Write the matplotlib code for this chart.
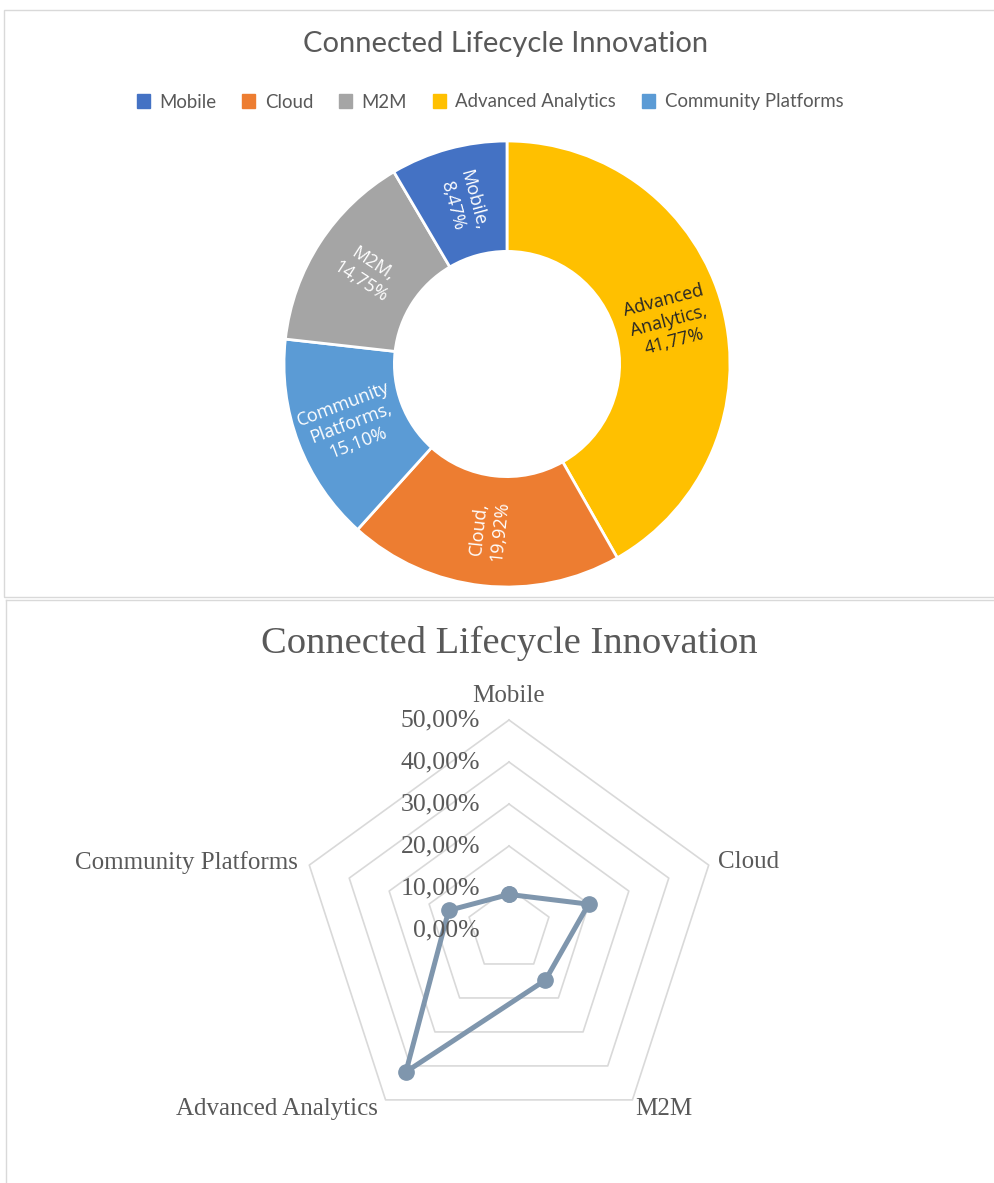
import numpy as np
import matplotlib.pyplot as plt
from matplotlib.patches import Patch, Rectangle
from matplotlib.lines import Line2D

# data
categories = ['Mobile', 'Cloud', 'M2M', 'Advanced Analytics', 'Community Platforms']
shares = [0.0847, 0.1992, 0.1475, 0.4177, 0.1510]
colors = ['#4472C4', '#ED7D31', '#A5A5A5', '#FFC000', '#5B9BD5']
donut_order = ['Advanced Analytics', 'Cloud', 'Community Platforms', 'M2M', 'Mobile']
radar_ticks = [0.0, 0.1, 0.2, 0.3, 0.4, 0.5]
title = 'Connected Lifecycle Innovation'

W, H = 995, 1183
fig = plt.figure(figsize=(W / 100, H / 100), dpi=100)
grey = '#595959'


def px_axes(x0, y0, x1, y1, **kw):
    return fig.add_axes([x0 / W, 1 - y1 / H, (x1 - x0) / W, (y1 - y0) / H], **kw)


def pct(v):
    return ('%.2f%%' % (v * 100)).replace('.', ',')


# panel borders
fig.add_artist(Rectangle((4 / W, 1 - 597 / H), 1, (597 - 10) / H, transform=fig.transFigure,
                         fill=False, ec='#D9D9D9', lw=1))
fig.add_artist(Line2D([6 / W, 6 / W], [0, 1 - 600 / H], color='#D9D9D9', lw=1))
fig.add_artist(Line2D([6 / W, 1], [1 - 600 / H, 1 - 600 / H], color='#D9D9D9', lw=1))

# ---- donut ----
fig.text(506 / W, 1 - 44 / H, title, ha='center', va='center', fontsize=21,
         family='Lato', color=grey)
handles = [Patch(color=c) for c in colors]
fig.legend(handles, categories, loc='center', bbox_to_anchor=(490 / W, 1 - 102 / H), ncol=5,
           frameon=False, handlelength=0.7, handleheight=0.7, handletextpad=0.5,
           columnspacing=1.4, prop={'family': 'Lato', 'size': 13.4}, labelcolor=grey)

ax1 = px_axes(284, 141, 730, 587)
vals = [shares[categories.index(c)] for c in donut_order]
cols = [colors[categories.index(c)] for c in donut_order]
wedges, _ = ax1.pie(vals, colors=cols, startangle=90, counterclock=False, radius=1,
                    wedgeprops=dict(width=0.495, edgecolor='white', linewidth=2))
ax1.set_xlim(-1, 1)
ax1.set_ylim(-1, 1)
for w, c, v in zip(wedges, donut_order, vals):
    ang = (w.theta1 + w.theta2) / 2
    rot = ((ang + 180) % 360) - 180
    if rot > 90:
        rot -= 180
    elif rot < -90:
        rot += 180
    x = 0.75 * np.cos(np.radians(ang))
    y = 0.75 * np.sin(np.radians(ang))
    txtcol = '#262626' if c == 'Advanced Analytics' else 'white'
    ax1.text(x, y, c.replace(' ', '\n') + ',\n' + pct(v), ha='center', va='center',
             rotation=rot, rotation_mode='anchor', fontsize=13, family='Open Sans',
             color=txtcol, linespacing=1.2)

# ---- radar ----
fig.text(509 / W, 1 - 643 / H, title, ha='center', va='center', fontsize=27.7,
         family='Liberation Serif', color=grey)

ax2 = px_axes(299, 720, 719, 1140, projection='polar')
ax2.set_theta_offset(np.pi / 2)
ax2.set_theta_direction(-1)
ax2.set_ylim(0, 0.5)
ax2.axis('off')
theta = np.linspace(0, 2 * np.pi, len(categories), endpoint=False)
closed = np.append(theta, theta[0])
for t in radar_ticks[1:]:
    ax2.plot(closed, [t] * len(closed), color='#D9D9D9', lw=1.2, zorder=1, clip_on=False)
ax2.plot(closed, np.append(shares, shares[0]), color='#7F96AD', lw=3.6, marker='o', ms=11,
         zorder=3, clip_on=False)

for t in radar_ticks:
    ax2.annotate(pct(t), xy=(0, t), xytext=(-29, 0), textcoords='offset pixels',
                 ha='right', va='center', fontsize=18.5, family='Liberation Serif',
                 color=grey, annotation_clip=False)

offsets = [(0, 24, 'center'), (9, 3, 'left'), (3, -9, 'left'), (-8, -9, 'right'),
           (-11, 3, 'right')]
for th, c, (dx, dy, ha) in zip(theta, categories, offsets):
    ax2.annotate(c, xy=(th, 0.5), xytext=(dx, dy), textcoords='offset pixels', ha=ha,
                 va='center', fontsize=18, family='Liberation Serif', color=grey,
                 annotation_clip=False)

fig.savefig('out.png', dpi=100)
